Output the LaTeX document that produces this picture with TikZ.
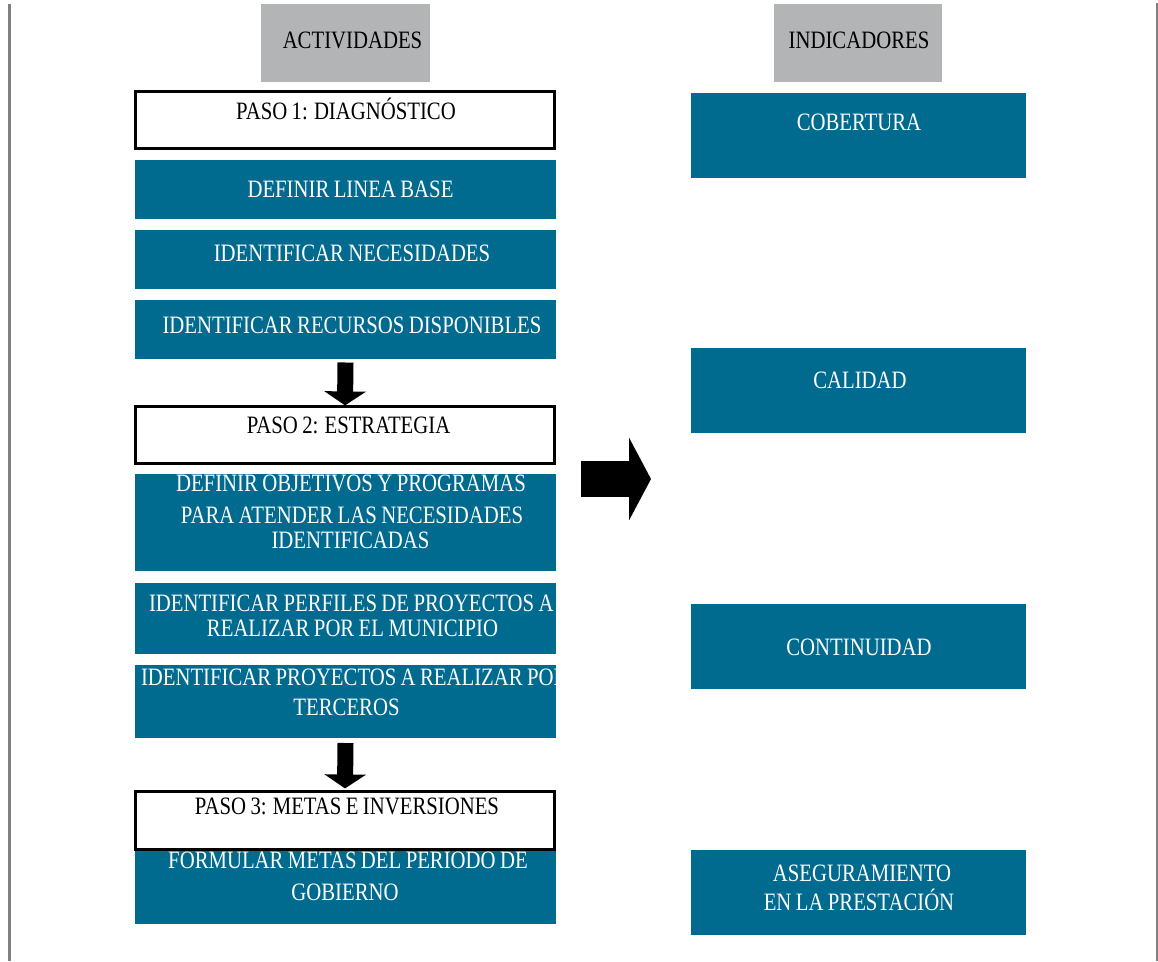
\documentclass[tikz,border=0pt]{standalone}
\usepackage{fontspec}
\setmainfont{Liberation Serif}[FakeStretch=0.83,WordSpace=0.85]
\usetikzlibrary{arrows.meta,calc}
\definecolor{boxblue}{RGB}{0,106,143}
\definecolor{headgray}{RGB}{179,180,182}
\definecolor{framegray}{RGB}{128,128,128}
\begin{document}
\begin{tikzpicture}[x=1pt,y=-1pt,
  every node/.style={inner sep=0pt,outer sep=0pt},
  bluebox/.style={fill=boxblue,minimum width=421pt},
  rbox/.style={fill=boxblue,minimum width=335pt,minimum height=85pt},
  headbox/.style={fill=headgray,minimum height=78pt},
  pasobox/.style={draw=black,fill=white,line width=2.8pt,minimum width=419.2pt},
  txt/.style={font=\fontsize{25}{30}\selectfont,anchor=base},
  wtxt/.style={txt,text=white},
  btxt/.style={txt,text=black},
  bigdown/.style={line width=16pt,-{Triangle[length=14pt 0 0,width=41pt 0 0]}},
  bigright/.style={line width=36pt,-{Triangle[length=22pt 0 0,width=82pt 0 0]}}
]
\useasboundingbox (0,0) rectangle (1158,961);
% frame lines
\draw[framegray,line width=2.5pt] (9.5,4) -- (9.5,961);
\draw[framegray,line width=2pt] (1157,3) -- (1157,961);
% headers
\node[headbox,minimum width=169pt] (hact) at (345.5,43) {};
\node[btxt] (thact) at (352.5,48) {ACTIVIDADES};
\node[headbox,minimum width=168pt] (hind) at (858,43) {};
\node[btxt] (thind) at (859,48) {INDICADORES};
% left column
\node[pasobox,minimum height=57.2pt] (p1) at (345,120) {};
\node[btxt] (tp1) at (346,119) {PASO 1: DIAGNÓSTICO};
\node[bluebox,minimum height=59pt] (b1) at (345.5,189.5) {};
\node[wtxt] (tb1) at (350.5,197) {DEFINIR LINEA BASE};
\node[bluebox,minimum height=59pt] (b2) at (345.5,259.5) {};
\node[wtxt] (tb2) at (352,261) {IDENTIFICAR NECESIDADES};
\node[bluebox,minimum height=59pt] (b3) at (345.5,329.5) {};
\node[wtxt] (tb3) at (352,333) {IDENTIFICAR RECURSOS DISPONIBLES};
\node[bluebox,minimum height=97pt] (b4) at (345.5,522.5) {};
\node[wtxt] (tb4a) at (351,491) {DEFINIR OBJETIVOS Y PROGRAMAS};
\node[wtxt] (tb4b) at (352,523) {PARA ATENDER LAS NECESIDADES};
\node[wtxt] (tb4c) at (350.5,548) {IDENTIFICADAS};
\node[pasobox,minimum height=57.2pt] (p2) at (345,435) {};
\node[btxt] (tp2) at (348.5,433) {PASO 2: ESTRATEGIA};
\node[bluebox,minimum height=71pt] (b5) at (345.5,618.5) {};
\begin{scope}
\clip (b5.north west) rectangle (b5.south east);
\node[wtxt,anchor=base west] (tb5a) at (149,611) {IDENTIFICAR PERFILES DE PROYECTOS A};
\end{scope}
\node[wtxt] (tb5b) at (352.5,636) {REALIZAR POR EL MUNICIPIO};
\node[bluebox,minimum height=73pt] (b6) at (345.5,701.5) {};
\begin{scope}
\clip (b6.north west) rectangle (b6.south east);
\node[wtxt,anchor=base west] (tb6a) at (141,685) {IDENTIFICAR PROYECTOS A REALIZAR POR};
\end{scope}
\node[wtxt] (tb6b) at (346.5,715) {TERCEROS};
\node[bluebox,minimum height=73pt] (b7) at (345.5,887.5) {};
\node[wtxt] (tb7a) at (348,868) {FORMULAR METAS DEL PERIODO DE};
\node[wtxt] (tb7b) at (345,900) {GOBIERNO};
\node[pasobox,minimum height=58.1pt] (p3) at (345,820.5) {};
\node[btxt] (tp3) at (347,814) {PASO 3: METAS E INVERSIONES};
% down arrows
\draw[bigdown] ([yshift=-3.5pt]b3.south) -- ([yshift=1pt]p2.north);
\draw[bigdown] ([yshift=-5pt]b6.south) -- ([yshift=3pt]p3.north);
% right column
\node[rbox] (r1) at (858.5,135.5) {};
\node[wtxt] (tr1) at (859,130) {COBERTURA};
\node[rbox] (r2) at (858.5,390.5) {};
\node[wtxt] (tr2) at (860,388) {CALIDAD};
\node[rbox] (r3) at (858.5,646.5) {};
\node[wtxt] (tr3) at (859,655) {CONTINUIDAD};
\node[rbox] (r4) at (858.5,892.5) {};
\node[wtxt] (tr4a) at (862,881) {ASEGURAMIENTO};
\node[wtxt] (tr4b) at (859,910) {EN LA PRESTACIÓN};
% big right arrow
\coordinate (ra1) at (581,479);
\coordinate (ra2) at (651,479);
\draw[bigright] (ra1) -- (ra2);
\end{tikzpicture}
\end{document}
